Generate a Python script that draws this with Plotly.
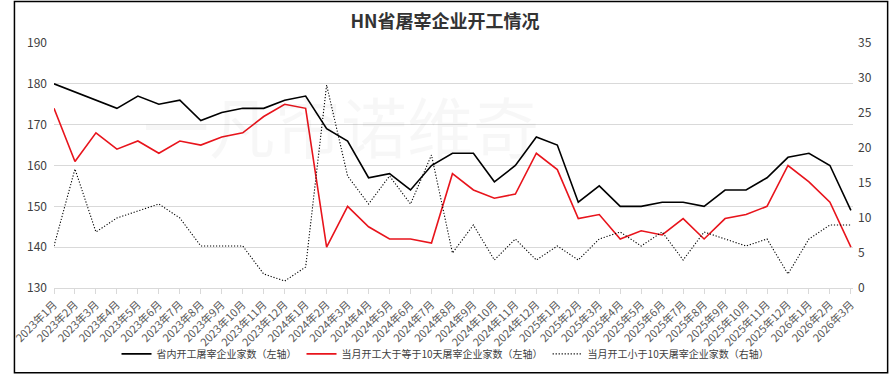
import plotly.graph_objects as go

months = ([f"2023年{m}月" for m in range(1, 13)] +
          [f"2024年{m}月" for m in range(1, 13)] +
          [f"2025年{m}月" for m in range(1, 13)] +
          [f"2026年{m}月" for m in range(1, 4)])

total_open = [180, 178, 176, 174, 177, 175, 176, 171, 173, 174, 174, 176,
              177, 169, 166, 157, 158, 154, 160, 163, 163, 156, 160, 167,
              165, 151, 155, 150, 150, 151, 151, 150, 154, 154, 157, 162,
              163, 160, 149]
open_ge10 = [174, 161, 168, 164, 166, 163, 166, 165, 167, 168, 172, 175,
             174, 140, 150, 145, 142, 142, 141, 158, 154, 152, 153, 163,
             159, 147, 148, 142, 144, 143, 147, 142, 147, 148, 150, 160,
             156, 151, 140]
open_lt10 = [6, 17, 8, 10, 11, 12, 10, 6, 6, 6, 2, 1,
             3, 29, 16, 12, 16, 12, 19, 5, 9, 4, 7, 4,
             6, 4, 7, 8, 6, 8, 4, 8, 7, 6, 7, 2,
             7, 9, 9]

names = ["省内开工屠宰企业家数（左轴）",
         "当月开工大于等于10天屠宰企业家数（左轴）",
         "当月开工小于10天屠宰企业家数（右轴）"]

W, H = 890, 380
ML, MR, MT, MB = 41, 37, 43, 88
PW, PH = W - ML - MR, H - MT - MB

fig = go.Figure()
fig.add_trace(go.Scatter(x=months, y=total_open, name=names[0], mode="lines",
                         line=dict(color="#000000", width=1.6), yaxis="y"))
fig.add_trace(go.Scatter(x=months, y=open_ge10, name=names[1], mode="lines",
                         line=dict(color="#e8141c", width=1.6), yaxis="y"))
fig.add_trace(go.Scatter(x=months, y=open_lt10, name=names[2], mode="lines",
                         line=dict(color="#000000", width=1.1, dash="1.2px,1.8px"), yaxis="y2"))

font_family = "Noto Sans CJK SC, Liberation Sans, sans-serif"

def px_x(p):
    return (p - ML) / PW

def px_y(p):
    return (H - MB - p) / PH

fig.update_layout(
    width=W, height=H,
    margin=dict(l=ML, r=MR, t=MT, b=MB),
    paper_bgcolor="white", plot_bgcolor="white",
    font=dict(family=font_family, color="#404040"),
    title=dict(text="<b>HN省屠宰企业开工情况</b>", x=0.5, xanchor="center",
               y=1 - 22 / H, yanchor="middle",
               font=dict(size=18, color="#333333", family=font_family)),
    xaxis=dict(type="category", range=[0, len(months) - 1 + 0.1],
               tickangle=-45, tickfont=dict(size=11, color="#595959"),
               showgrid=False, showline=True, linecolor="#d9d9d9", linewidth=1,
               ticks="outside", ticklen=5, tickcolor="#d9d9d9", zeroline=False),
    yaxis=dict(range=[130, 190], dtick=10, showgrid=True, gridcolor="#d9d9d9",
               gridwidth=1, zeroline=False, ticks="", tickfont=dict(size=12, color="#404040"),
               ticklabelstandoff=6),
    yaxis2=dict(range=[0, 35], dtick=5, overlaying="y", side="right",
                showgrid=False, zeroline=False, tickfont=dict(size=12, color="#404040"),
                ticklabelstandoff=4),
    legend=dict(orientation="h", x=0.49, xanchor="center", y=px_y(359), yanchor="middle",
                font=dict(size=10, color="#404040"), itemwidth=30,
                bgcolor="rgba(0,0,0,0)", tracegroupgap=0),
    showlegend=True,
    annotations=[dict(text="一凡帘诺维奇", xref="paper", yref="paper",
                      x=px_x(333), y=px_y(125), xanchor="center", yanchor="middle",
                      showarrow=False,
                      font=dict(size=66, color="rgba(0,0,0,0.03)", family=font_family))],
    shapes=[dict(type="rect", xref="paper", yref="paper",
                 x0=px_x(0.8), x1=px_x(888.2), y0=px_y(378.2), y1=px_y(0.8),
                 line=dict(color="#000000", width=1.5), fillcolor="rgba(0,0,0,0)",
                 layer="above")],
)

fig.write_html("out.html", config={"displayModeBar": False},
               post_script="document.body.style.margin='0';")
